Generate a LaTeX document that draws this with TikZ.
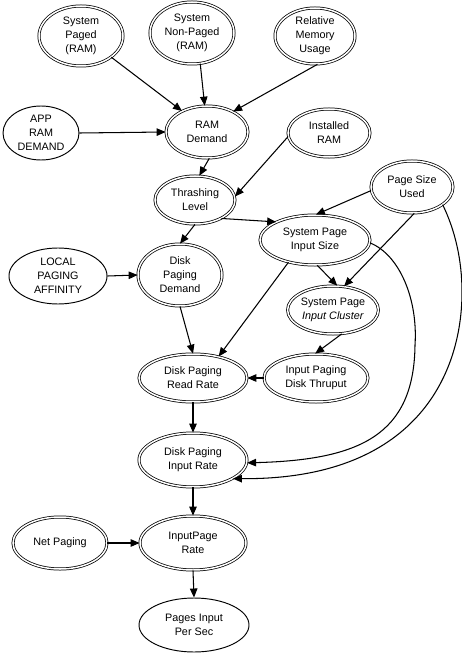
\documentclass[tikz,border=0pt]{standalone}
\usepackage{fontspec}
\setmainfont{Liberation Sans}
\usetikzlibrary{shapes.geometric,arrows.meta}
\tikzset{
  base/.style={ellipse, draw, inner sep=0pt, align=center,
    font=\fontsize{10.8}{14}\selectfont},
  dbl/.style={base, line width=0.75pt, double, double distance=1.5pt},
  sgl/.style={base, line width=0.95pt},
  arr/.style={-{Triangle[length=9pt,width=7.5pt]}, line width=1.05pt},
}
\begin{document}
\begin{tikzpicture}[x=1pt,y=-1pt]
\useasboundingbox[fill=white] (0,0) rectangle (462,655);
% nodes
\node[dbl, minimum width=84pt, minimum height=60pt] (sp)   at (81,36)  {System\\Paged\\(RAM)};
\node[dbl, minimum width=84pt, minimum height=62pt] (snp)  at (192,33) {System\\Non-Paged\\(RAM)};
\node[dbl, minimum width=80pt, minimum height=56pt] (rmu)  at (315,36) {Relative\\Memory\\Usage};
\node[sgl, minimum width=76pt, minimum height=54pt] (app)  at (41,133) {APP\\RAM\\DEMAND};
\node[dbl, minimum width=82pt, minimum height=52pt] (ram)  at (207,132) {RAM\\Demand};
\node[dbl, minimum width=82pt, minimum height=48pt] (inst) at (329,133) {Installed\\RAM};
\node[dbl, minimum width=80pt, minimum height=48pt] (thr)  at (195,200) {Thrashing\\Level};
\node[dbl, minimum width=82pt, minimum height=52pt] (psu)  at (412,187) {Page Size\\Used};
\node[dbl, minimum width=110pt, minimum height=50pt] (spis) at (315,240) {System Page\\Input Size};
\node[sgl, minimum width=98pt, minimum height=56pt] (lpa)  at (58,276) {LOCAL\\PAGING\\AFFINITY};
\node[dbl, minimum width=84pt, minimum height=62pt] (dpd)  at (180,275) {Disk\\Paging\\Demand};
\node[dbl, minimum width=90pt, minimum height=48pt] (spic) at (333,310) {System Page\\\textit{Input Cluster}};
\node[dbl, minimum width=108pt, minimum height=48pt] (dprr) at (193,378) {Disk Paging\\Read Rate};
\node[dbl, minimum width=104pt, minimum height=48pt] (ipdt) at (316,378) {Input Paging\\Disk Thruput};
\node[dbl, minimum width=108pt, minimum height=54pt] (dpir) at (193,460) {Disk Paging\\Input Rate};
\node[dbl, minimum width=106pt, minimum height=54pt] (ipr)  at (193,543) {InputPage\\Rate};
\node[dbl, minimum width=94pt, minimum height=52pt] (np)   at (60,543)  {Net Paging};
\node[sgl, minimum width=110pt, minimum height=54pt] (pips) at (194,625) {Pages Input\\Per Sec};
% edges
\draw[arr] (sp.325) -- (ram.140);
\draw[arr] (snp.285) -- (ram.95);
\draw[arr] (rmu.275) -- (ram.38);
\draw[arr] (app.east) -- (ram.west);
\draw[arr] (ram.275) -- (thr.80);
\draw[arr] (inst.185) -- (thr.5);
\draw[arr] (psu.185) -- (spis.88);
\draw[arr] (thr.-35) -- (spis.155);
\draw[arr] (thr.south) -- (dpd.north);
\draw[arr] (lpa.east) -- (dpd.west);
\draw[arr] (spis.275) -- (spic.80);
\draw[arr] (psu.275) -- (spic.65);
\draw[arr] (spis.220) -- (dprr.40);
\draw[arr] (dpd.south) -- (dprr.north);
\draw[arr] (spic.-70) -- (ipdt.92);
\draw[arr] (ipdt.west) -- (dprr.east);
\draw[arr] (dprr.south) -- (dpir.north);
\draw[arr] (spis.-3) .. controls (400,255) and (418,300) .. (415,345)
  .. controls (414,435) and (360,460) .. (dpir.-3);
\draw[arr] (psu.-30) .. controls (455,230) and (462,260) .. (462,292)
  .. controls (462,375) and (415,480) .. (dpir.-25);
\draw[arr] (dpir.south) -- (ipr.north);
\draw[arr] (np.east) -- (ipr.west);
\draw[arr] (ipr.south) -- (pips.north);
\end{tikzpicture}
\end{document}
